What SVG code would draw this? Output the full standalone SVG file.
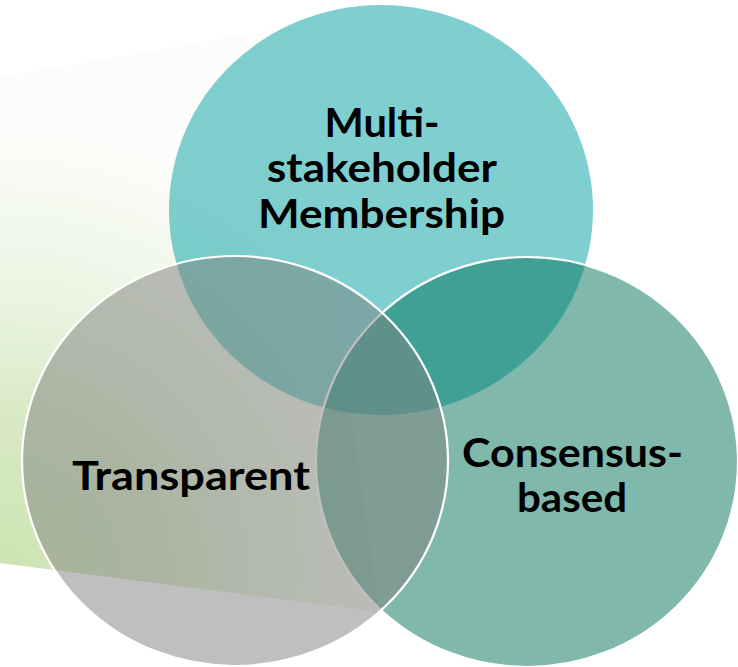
<svg xmlns="http://www.w3.org/2000/svg" width="738" height="667" viewBox="0 0 738 667">
  <defs>
    <radialGradient id="bgGrad" gradientUnits="userSpaceOnUse" cx="0" cy="570" r="440">
      <stop offset="0" stop-color="#CCE4B0"/>
      <stop offset="0.35" stop-color="#D8EAC5"/>
      <stop offset="0.6" stop-color="#EAF3DF"/>
      <stop offset="1" stop-color="#FCFDFA"/>
    </radialGradient>
    <style>
      .circle { fill-opacity: 0.5; }
      .stroked { stroke: #FFFFFF; stroke-width: 2.2; }
      .label { font-family: "Lato", "Liberation Sans", sans-serif; font-weight: 700; font-size: 41px; fill: #000000; text-anchor: middle; }
    </style>
  </defs>
  <rect x="0" y="0" width="738" height="667" fill="#FFFFFF"/>
  <g id="background">
    <polygon points="0,77 296,26 379,612 0,563" fill="url(#bgGrad)"/>
  </g>
  <g id="node-membership">
    <ellipse class="circle" cx="381" cy="210" rx="212" ry="205" fill="#00A0A2"/>
  </g>
  <g id="node-consensus">
    <ellipse class="circle stroked" cx="527" cy="462" rx="211" ry="205" fill="#01715A"/>
  </g>
  <g id="node-transparent">
    <ellipse class="circle stroked" cx="235" cy="461" rx="213" ry="205" fill="#7D7F7D"/>
  </g>
  <g id="connectors"></g>
  <g id="labels">
    <text class="label" x="382" y="137" textLength="115" lengthAdjust="spacingAndGlyphs">Multi-</text>
    <text class="label" x="382" y="182" textLength="230" lengthAdjust="spacingAndGlyphs">stakeholder</text>
    <text class="label" x="381.5" y="228" textLength="247" lengthAdjust="spacingAndGlyphs">Membership</text>
    <text class="label" x="191" y="490" textLength="238" lengthAdjust="spacingAndGlyphs">Transparent</text>
    <text class="label" x="572.5" y="467" textLength="221" lengthAdjust="spacingAndGlyphs">Consensus-</text>
    <text class="label" x="572" y="512" textLength="110" lengthAdjust="spacingAndGlyphs">based</text>
  </g>
</svg>
